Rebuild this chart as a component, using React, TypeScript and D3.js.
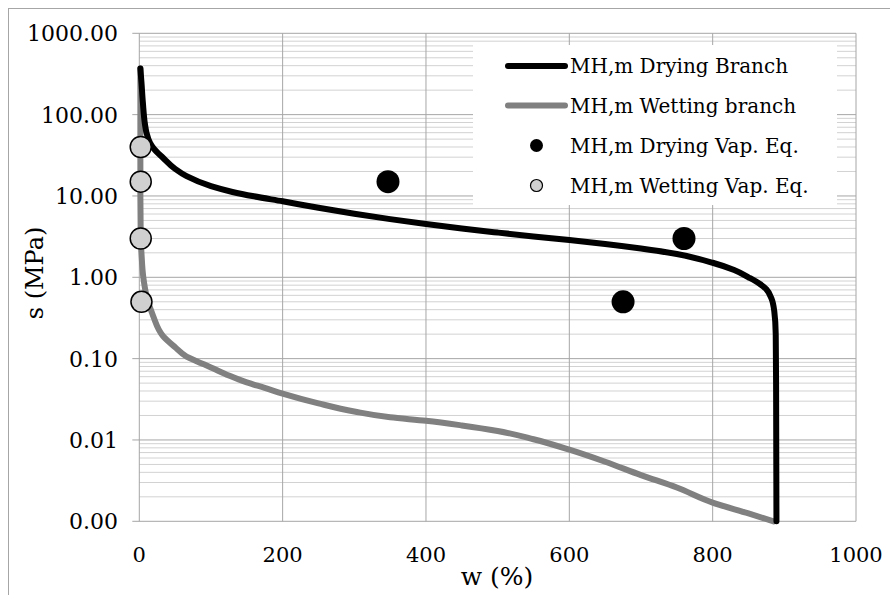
import React from "react";
import * as d3 from "d3";

// Water content w (%) and suction s (MPa) for the drying branch
const dryingW = [1.5, 3, 5, 8, 10, 15, 20, 33, 50, 66, 100, 130, 160, 200, 250, 300, 350, 400, 450, 500, 550, 600, 650, 700, 750, 800, 830, 850, 865, 875, 882, 886, 888, 888.5, 889];
const dryingS = [370, 250, 140, 75, 60, 45, 38.5, 29.5, 21.5, 17.5, 13.2, 11.2, 9.9, 8.6, 7.16, 6.05, 5.19, 4.52, 3.98, 3.55, 3.18, 2.87, 2.57, 2.26, 1.93, 1.51, 1.23, 1.0, 0.84, 0.71, 0.55, 0.38, 0.2, 0.05, 0.001];

// Wetting branch
const wettingW = [1.5, 1.5, 1.5, 2, 3, 5.6, 10, 19.5, 33, 50, 66, 80, 100, 125, 150, 175, 200, 250, 300, 350, 400, 450, 500, 550, 600, 650, 700, 750, 800, 850, 885];
const wettingS = [370, 100, 10, 3, 2, 1.0, 0.6, 0.33, 0.19, 0.138, 0.106, 0.093, 0.078, 0.062, 0.051, 0.0437, 0.0372, 0.0282, 0.0224, 0.019, 0.0172, 0.0151, 0.0129, 0.0102, 0.0076, 0.0054, 0.0037, 0.0026, 0.0017, 0.00125, 0.001];

// Vapour equilibrium measurements
const dryVapW = [347, 760, 675];
const dryVapS = [15, 3, 0.5];
const wetVapW = [2, 2, 2, 3];
const wetVapS = [40, 15, 3, 0.5];

const xTicks = [0, 200, 400, 600, 800, 1000];
const yTicks = [1000, 100, 10, 1, 0.1, 0.01, 0.001];

const legendLabels = [
  "MH,m Drying Branch",
  "MH,m Wetting branch",
  "MH,m Drying Vap. Eq.",
  "MH,m Wetting Vap. Eq.",
];

const FONT = "DejaVu Serif";

export default function App() {
  const left = 139.3, right = 856, top = 33.3, bottom = 521.3;
  const x = d3.scaleLinear().domain([0, 1000]).range([left, right]);
  const y = d3.scaleLog().domain([0.001, 1000]).range([bottom, top]);

  const minor: number[] = [];
  for (let e = -3; e < 3; e++) {
    for (let m = 2; m <= 9; m++) minor.push(m * Math.pow(10, e));
  }

  const line = d3
    .line<[number, number]>()
    .x((d) => x(d[0]))
    .y((d) => y(d[1]))
    .curve(d3.curveMonotoneY);

  const dryPts = dryingW.map((w, i) => [w, dryingS[i]] as [number, number]);
  const wetPts = wettingW.map((w, i) => [w, wettingS[i]] as [number, number]);

  const legX = 473, legY = 45, legW = 364, legH = 160;
  const rowY = [66, 105.5, 145.5, 185.5];

  return (
    <svg
      width={890}
      height={595}
      style={{ position: "absolute", left: 0, top: 0, background: "#fff" }}
      fontFamily={FONT}
    >
      <rect x={0} y={0} width={890} height={595} fill="#fff" />
      <rect x={8.5} y={8.5} width={1000} height={1000} fill="none" stroke="#a6a6a6" strokeWidth={1} />

      {/* minor horizontal grid */}
      {minor.map((v, i) => (
        <line key={"mn" + i} x1={left} x2={right} y1={y(v)} y2={y(v)} stroke="#d2d2d2" strokeWidth={1} />
      ))}
      {/* major horizontal grid */}
      {yTicks.map((v, i) => (
        <line key={"mj" + i} x1={left - 7} x2={right} y1={y(v)} y2={y(v)} stroke="#a6a6a6" strokeWidth={1} />
      ))}
      {/* vertical grid */}
      {xTicks.map((v, i) => (
        <line key={"vx" + i} x1={x(v)} x2={x(v)} y1={top} y2={bottom} stroke="#a6a6a6" strokeWidth={1} />
      ))}

      {/* y tick labels */}
      {yTicks.map((v, i) => (
        <text key={"yt" + i} x={118} y={y(v) + 8} textAnchor="end" fontSize={22} fill="#000">
          {v.toFixed(2)}
        </text>
      ))}
      {/* x tick labels */}
      {xTicks.map((v, i) => (
        <text key={"xt" + i} x={x(v)} y={562} textAnchor="middle" fontSize={21} fill="#000">
          {String(v)}
        </text>
      ))}

      <text transform="translate(43,273) rotate(-90)" textAnchor="middle" fontSize={24} fill="#000">
        s (MPa)
      </text>
      <text x={497} y={585} textAnchor="middle" fontSize={25} fill="#000">
        w (%)
      </text>

      <path d={line(wetPts) || ""} fill="none" stroke="#808080" strokeWidth={6} strokeLinejoin="round" strokeLinecap="round" />
      <path d={line(dryPts) || ""} fill="none" stroke="#000" strokeWidth={6} strokeLinejoin="round" strokeLinecap="round" />

      {dryVapW.map((w, i) => (
        <circle key={"dv" + i} cx={x(w)} cy={y(dryVapS[i])} r={11.5} fill="#000" />
      ))}
      {wetVapW.map((w, i) => (
        <circle key={"wv" + i} cx={x(w)} cy={y(wetVapS[i])} r={10.5} fill="#d0d0d0" stroke="#000" strokeWidth={1.5} />
      ))}

      {/* legend */}
      <rect x={legX} y={legY} width={legW} height={legH} fill="#fff" />
      <line x1={508} x2={565} y1={rowY[0]} y2={rowY[0]} stroke="#000" strokeWidth={6} strokeLinecap="round" />
      <line x1={508} x2={565} y1={rowY[1]} y2={rowY[1]} stroke="#808080" strokeWidth={6} strokeLinecap="round" />
      <circle cx={536.5} cy={rowY[2]} r={6.5} fill="#000" />
      <circle cx={536.5} cy={rowY[3]} r={6} fill="#d0d0d0" stroke="#000" strokeWidth={1.2} />
      {legendLabels.map((t, i) => (
        <text key={"lg" + i} x={570} y={rowY[i] + 7} fontSize={20} fill="#000">
          {t}
        </text>
      ))}
    </svg>
  );
}
